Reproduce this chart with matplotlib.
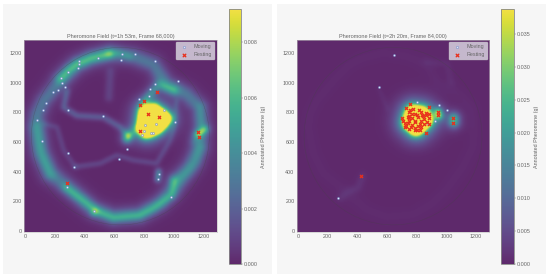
import numpy as np
import matplotlib
matplotlib.use("Agg")
import matplotlib.pyplot as plt
from matplotlib.patches import Circle, Rectangle

plt.rcParams["font.family"] = ["Liberation Sans", "DejaVu Sans"]

# Trails: x list, y list, peak value, width
ring_x = [76, 65, 98, 165, 277, 367, 457, 590, 770, 905, 994, 1106, 1173, 1184, 1173, 1084, 949, 860, 725, 569, 434, 345, 233, 121, 76]
ring_y = [789, 700, 520, 387, 297, 219, 141, 92, 107, 185, 275, 431, 565, 700, 834, 923, 990, 1125, 1180, 1203, 1169, 1125, 1013, 879, 789]
left_trails = [
    (ring_x, ring_y, 0.0030, 32),
    ([560, 440, 350, 290, 233], [1195, 1165, 1130, 1090, 1030], 0.0036, 22),
    ([700, 620, 560], [1180, 1205, 1195], 0.0018, 16),
    ([85, 100, 130, 165], [700, 560, 470, 385], 0.0020, 28),
    ([270, 370, 480, 590, 760, 860, 985, 1000], [290, 215, 130, 85, 100, 150, 240, 340], 0.0032, 18),
    ([1000, 1090, 1150, 1175], [340, 400, 460, 560], 0.0016, 26),
    ([277, 255, 345, 524, 636, 692], [945, 834, 778, 767, 700, 633], 0.0024, 10),
    ([121, 210, 255, 333], [722, 700, 543, 431], 0.0013, 7),
    ([333, 501, 613, 725, 882, 972, 1005, 1016], [431, 454, 510, 476, 454, 610, 722, 879], 0.0016, 7),
    ([570, 560], [1080, 900], 0.0010, 16),
    ([680, 690], [620, 640], 0.0050, 18),
    ([700, 780], [650, 700], 0.0026, 22),
    ([795, 870, 950, 890, 810, 780, 795], [810, 830, 760, 690, 660, 700, 810], 0.0110, 24),
    ([830, 830, 900], [770, 700, 750], 0.0110, 42),
    ([800, 860, 900, 1000], [870, 950, 990, 950], 0.0036, 20),
    ([1160, 1210], [650, 685], 0.0052, 14),
    ([890, 895], [345, 400], 0.0046, 10),
    ([1175, 1185, 1130], [840, 700, 600], 0.0012, 18),
    ([460, 470], [120, 135], 0.0032, 13),
]
left_moving_x = [358, 360, 354, 490, 653, 644, 739, 871, 1032, 875, 842, 831, 768, 934, 1008, 878, 804, 797, 788, 860, 844, 685, 629, 898, 896, 983, 282, 463, 327, 284, 114, 81, 116, 287, 137, 217, 184, 266, 244, 237, 289, 524]
left_moving_y = [1147, 1125, 1098, 1169, 1192, 1158, 1192, 1151, 1013, 990, 959, 912, 890, 818, 733, 722, 716, 673, 646, 662, 660, 552, 485, 387, 349, 226, 293, 136, 431, 523, 610, 749, 816, 814, 865, 952, 941, 972, 1002, 1035, 1075, 774]
left_resting_x = [797, 772, 824, 902, 775, 887, 1164, 1173, 277]
left_resting_y = [875, 850, 787, 771, 675, 941, 666, 637, 320]

right_trails = [
    (ring_x, ring_y, 0.0006, 30),
    ([540, 600], [960, 820], 0.0012, 8),
    ([430, 400, 330, 280], [370, 290, 260, 220], 0.0018, 16),
    ([770, 750, 790, 850, 830, 770], [800, 730, 690, 750, 790, 800], 0.0700, 30),
    ([790, 800], [750, 750], 0.0500, 48),
    ([940, 945], [800, 780], 0.0340, 17),
    ([1045, 1045], [760, 735], 0.0270, 22),
    ([860, 1000, 1030], [1140, 1130, 1000], 0.0012, 14),
]
right_moving_x = [645, 545, 800, 950, 1005, 920, 875, 270]
right_moving_y = [1190, 970, 870, 850, 815, 740, 725, 220]
right_resting_x = [755, 730, 775, 880, 750, 790, 830, 860, 880, 700, 740, 770, 810, 850, 880, 720, 750, 790, 830, 870, 730, 770, 810, 850, 720, 750, 790, 830, 740, 770, 800, 760, 790, 820, 865, 940, 945, 1045, 1045, 425, 750, 860, 755, 815, 845, 785, 825, 745, 705, 835, 800, 880]
right_resting_y = [855, 830, 825, 835, 800, 790, 800, 795, 790, 760, 770, 760, 770, 755, 760, 730, 740, 735, 745, 735, 710, 715, 710, 720, 700, 690, 695, 700, 730, 790, 780, 700, 680, 680, 660, 800, 780, 760, 730, 372, 760, 780, 815, 815, 775, 745, 725, 775, 745, 785, 680, 720]

panels = [
    ("Pheromone Field (t=1h 53m, Frame 68,000)", left_trails, left_moving_x, left_moving_y,
     left_resting_x, left_resting_y, 0.0092, [0.000, 0.002, 0.004, 0.006, 0.008], 0),
    ("Pheromone Field (t=2h 20m, Frame 84,000)", right_trails, right_moving_x, right_moving_y,
     right_resting_x, right_resting_y, 0.0388, [0.000, 0.005, 0.010, 0.015, 0.020, 0.025, 0.030, 0.035], 272.7),
]
tick_vals = [0, 200, 400, 600, 800, 1000, 1200]
grey = "#666666"
W, H = 550.0, 277.0


def rasterize(trails):
    xs = np.arange(-10, 1290, 6.0)
    ys = np.arange(-8, 1290, 6.0)
    gx, gy = np.meshgrid(xs, ys)
    field = np.zeros_like(gx)
    for tx, ty, peak, width in trails:
        layer = np.zeros_like(gx)
        for i in range(len(tx) - 1):
            ax_, ay_, bx, by = tx[i], ty[i], tx[i + 1], ty[i + 1]
            dx, dy = bx - ax_, by - ay_
            t = ((gx - ax_) * dx + (gy - ay_) * dy) / max(dx * dx + dy * dy, 1)
            t = np.clip(t, 0, 1)
            d2 = (gx - ax_ - t * dx) ** 2 + (gy - ay_ - t * dy) ** 2
            core = 0.8 * np.exp(-d2 / (2 * width ** 2)) + 0.2 * np.exp(-d2 / (2 * (2.0 * width) ** 2))
            layer = np.maximum(layer, peak * core)
        field = field + layer
    # soften the creases where segments meet
    kernel = np.exp(-np.arange(-5, 6) ** 2 / 8.0)
    kernel /= kernel.sum()
    field = np.apply_along_axis(lambda r: np.convolve(r, kernel, mode="same"), 0, field)
    field = np.apply_along_axis(lambda r: np.convolve(r, kernel, mode="same"), 1, field)
    return field


fig = plt.figure(figsize=(5.5, 2.77), dpi=100, facecolor="white")
for x0 in [3, 277]:
    fig.patches.append(Rectangle((x0 / W, 3 / H), 269 / W, 270 / H, transform=fig.transFigure,
                                 facecolor="#f6f6f6", edgecolor="none", zorder=-5))

for title, trails, mx, my, rx, ry, vmax, cticks, off in panels:
    ax = fig.add_axes([(24 + off) / W, (H - 232) / H, 192.7 / W, 192 / H])
    im = ax.imshow(rasterize(trails), origin="lower", extent=(-10, 1290, -8, 1290),
                   cmap="viridis", vmin=0, vmax=vmax, alpha=0.8, interpolation="bilinear", aspect="auto")
    ax.set_facecolor("#c8c8c8")
    ax.add_patch(Circle((640, 640), 600, fill=False, ec="#444444", lw=0.3, alpha=0.5))
    ax.scatter(mx, my, s=2.2, facecolor="#dfe6f5", edgecolor="#6f86c8", linewidth=0.35, label="Moving", zorder=3)
    ax.scatter(rx, ry, s=5, c="#e8301c", marker="x", linewidth=0.9, label="Resting", zorder=4)
    ax.set_xlim(-10, 1290)
    ax.set_ylim(-8, 1290)
    ax.set_xticks(tick_vals)
    ax.set_yticks(tick_vals)
    ax.tick_params(labelsize=3.9, colors=grey, length=0, pad=1.5)
    ax.set_title(title, fontsize=3.95, color=grey, pad=1.6)
    for s in ax.spines.values():
        s.set_color("#bbbbbb")
        s.set_linewidth(0.4)
    leg = ax.legend(loc="upper right", fontsize=3.9, frameon=True, borderpad=0.5, handletextpad=0.8,
                    labelspacing=0.5, borderaxespad=0.3, markerscale=1.1)
    leg.get_frame().set_facecolor("#d8d2df")
    leg.get_frame().set_edgecolor("#bbbbbb")
    leg.get_frame().set_linewidth(0.3)
    leg.get_frame().set_alpha(0.85)
    for t in leg.get_texts():
        t.set_color(grey)

    cax = fig.add_axes([(228.7 + off) / W, (H - 264) / H, 12.3 / W, 255 / H])
    cax.set_facecolor("#c8c8c8")
    cb = fig.colorbar(im, cax=cax)
    cb.set_ticks(cticks)
    cb.ax.set_yticklabels([f"{v:.3f}" for v in cticks])
    cb.ax.tick_params(labelsize=3.9, colors=grey, length=1.2, width=0.3, pad=1)
    cb.set_label("Annotated Pheromone (g)", fontsize=3.9, color=grey, labelpad=2)
    cb.outline.set_edgecolor("#888888")
    cb.outline.set_linewidth(0.6)

fig.savefig("out.png", dpi=100, facecolor="white")
